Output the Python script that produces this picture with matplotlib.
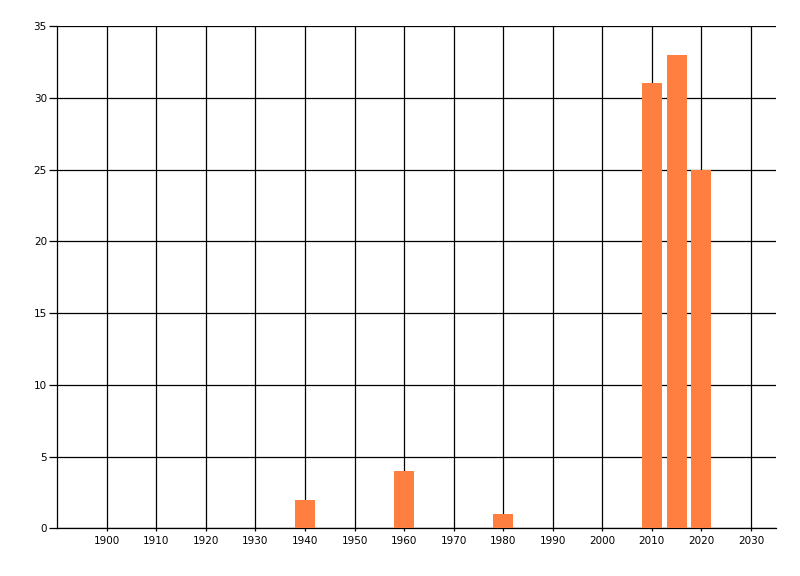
import matplotlib
matplotlib.use("Agg")
import matplotlib.pyplot as plt

years = [1940, 1960, 1980, 2010, 2015, 2020]
values = [2, 4, 1, 31, 33, 25]
xticks = list(range(1900, 2031, 10))
yticks = list(range(0, 36, 5))

fig = plt.figure(figsize=(8, 5.76), dpi=100)
ax = fig.add_axes([57.3/800, 1-528.3/576, (775.7-57.3)/800, (528.3-26)/576])
ax.set_axisbelow(True)
ax.grid(True, color="black", linewidth=0.9)
ax.bar(years, values, width=4, color="#FF7F40", zorder=3)
ax.set_xlim(1890, 2035)
ax.set_ylim(0, 35)
ax.set_xticks(xticks)
ax.set_yticks(yticks)
ax.tick_params(labelsize=7.5, width=0.9, color="black")
ax.tick_params(axis="y", length=6, pad=1.5)
ax.tick_params(axis="x", length=2.5, pad=3)
for s in ["top", "right"]:
    ax.spines[s].set_visible(False)
for s in ["left", "bottom"]:
    ax.spines[s].set_linewidth(0.9)
fig.savefig("out.png", dpi=100)
